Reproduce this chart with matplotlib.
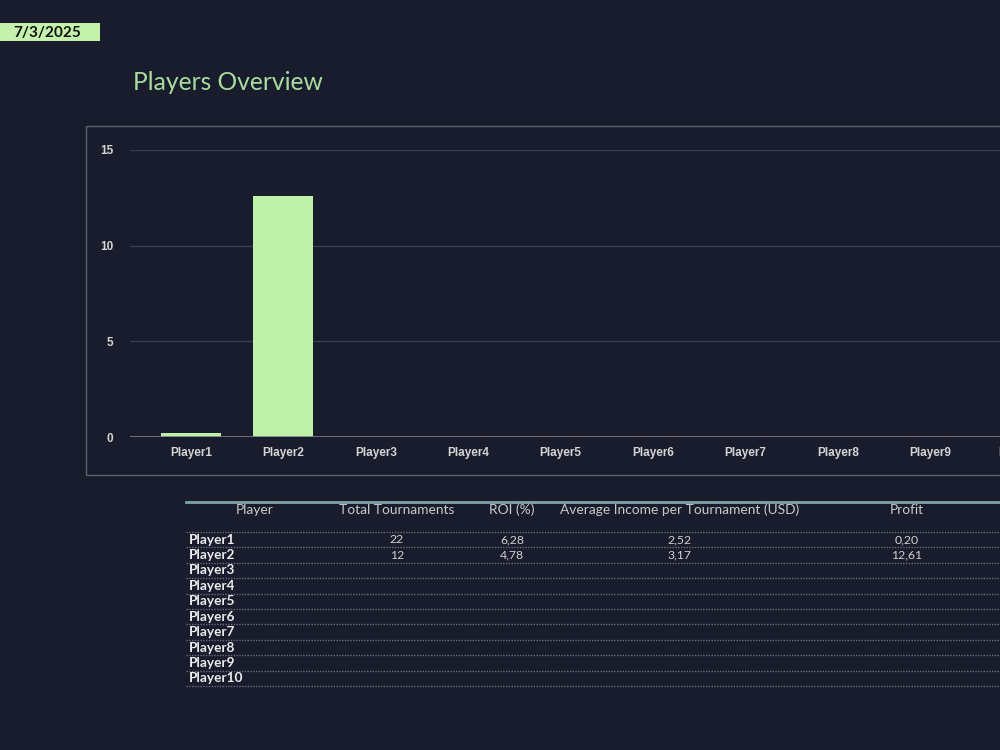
import numpy as np
import matplotlib
matplotlib.use("Agg")
import matplotlib.pyplot as plt
from matplotlib.patches import Rectangle

# ---- data ----
players = ["Player1", "Player2", "Player3", "Player4", "Player5",
           "Player6", "Player7", "Player8", "Player9", "Player10"]
profit = [0.20, 12.61, np.nan, np.nan, np.nan, np.nan, np.nan, np.nan, np.nan, np.nan]
tournaments = [22, 12, None, None, None, None, None, None, None, None]
roi = [6.28, 4.78, None, None, None, None, None, None, None, None]
avg_income = [2.52, 3.17, None, None, None, None, None, None, None, None]
y_ticks = [0, 5, 10, 15]
headers = ["Player", "Total Tournaments", "ROI (%)",
           "Average Income per Tournament (USD)", "Profit"]
date_label = "7/3/2025"
title = "Players Overview"

BG = "#191c2c"
GREEN = "#bff2a8"

fig = plt.figure(figsize=(10, 7.5), dpi=100)
fig.patch.set_facecolor(BG)

# overlay in pixel coordinates
ov = fig.add_axes([0, 0, 1, 1])
ov.set_xlim(0, 1000)
ov.set_ylim(750, 0)
ov.axis("off")
ov.set_facecolor("none")

# date badge
ov.add_patch(Rectangle((0, 23), 100, 18, facecolor="#c4f2ac", edgecolor="none"))
ov.text(47, 32.5, date_label, ha="center", va="center", fontsize=11,
        fontweight="bold", color="#111111", family="Lato")

# title
ov.text(133, 82, title, ha="left", va="center", fontsize=17.7, color="#a9dd9f",
        family="Lato")

# chart frame
ov.add_patch(Rectangle((86, 126), 1000, 349, facecolor="none",
                       edgecolor="#5c5f6c", linewidth=1.0))

# bar chart axes
ax = fig.add_axes([0.13, (750 - 437) / 750, 0.9536, (437 - 150) / 750])
ax.set_facecolor("none")
x = np.arange(len(players))
ax.bar(x, profit, width=0.65, color=GREEN, edgecolor="none", zorder=3)
ax.set_xlim(-0.66, len(players) - 1 + 0.66)
ax.set_ylim(0, 15)
ax.set_yticks(y_ticks)
ax.set_yticklabels([str(v) for v in y_ticks])
ax.set_xticks(x)
ax.set_xticklabels(players)
for s in ax.spines.values():
    s.set_visible(False)
ax.grid(axis="y", color="#3a3d4e", linewidth=1.0, zorder=0)
ax.axhline(0, color="#7a7d88", linewidth=1.2, zorder=4)
ax.tick_params(axis="both", length=0, colors="#d6d6d6", labelsize=8.5)
ax.tick_params(axis="y", pad=12)
ax.tick_params(axis="x", pad=7)
for lab in ax.get_xticklabels() + ax.get_yticklabels():
    lab.set_family("Liberation Sans")
    lab.set_fontweight("bold")
    lab.set_color("#d4d4d4")

# table
col_x = [255, 397, 512, 680, 907]
ov.plot([186, 1000], [502, 502], color="#7fa6a8", linewidth=2)
for cx, h in zip(col_x, headers):
    ov.text(cx, 510, h, ha="center", va="center", fontsize=9.9,
            color="#c8c8c8", family="Lato")

row_top = 532
row_h = 15.4
for k in range(len(players) + 1):
    yy = row_top + k * row_h
    ov.plot([186, 1000], [yy, yy], color="#6a6d7a", linewidth=1.0,
            linestyle=(0, (1, 1)))


def fmt(v):
    if v is None:
        return ""
    if isinstance(v, int):
        return str(v)
    return f"{v:.2f}".replace(".", ",")


for i, p in enumerate(players):
    yc = row_top + (i + 0.5) * row_h
    ov.text(189, yc, p, ha="left", va="center", fontsize=9.8,
            fontweight="bold", color="#ececec", family="Lato")
    vals = [tournaments[i], roi[i], avg_income[i],
            None if np.isnan(profit[i]) else profit[i]]
    for cx, v in zip(col_x[1:], vals):
        ov.text(cx, yc, fmt(v), ha="center", va="center", fontsize=8.8,
                color="#d0d0d0", family="Lato")

fig.savefig("out.png", dpi=100, facecolor=BG)
